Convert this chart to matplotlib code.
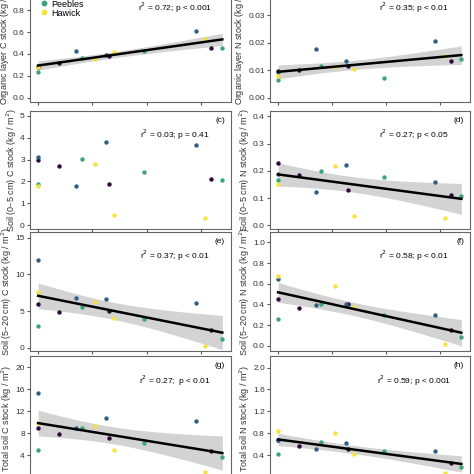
import numpy as np
import matplotlib
matplotlib.use("Agg")
import matplotlib.pyplot as plt
from matplotlib.lines import Line2D

plt.rcParams['font.family'] = ['Liberation Sans', 'DejaVu Sans']

sites = ["Selkirk", "Galashiels", "Peebles", "Hawick"]
site_colors = ["#2d0a3a", "#2f5f86", "#3aa47a", "#f5e23a"]
# x positions per site (4 sampling points each)
site_x = [[0, 0.39, 1.30, 3.19],
          [0, 0.70, 1.25, 2.90],
          [0, 0.80, 1.95, 3.39],
          [0, 1.05, 1.40, 3.08]]

org_C = [[0.28, 0.32, 0.38, 0.45], [0.29, 0.43, 0.39, 0.61], [0.23, 0.36, 0.43, 0.45], [0.28, 0.35, 0.42, 0.54]]
org_N = [[0.0098, 0.0100, 0.0115, 0.0133], [0.0093, 0.0175, 0.0133, 0.0204], [0.0063, 0.0115, 0.0071, 0.0140], [0.0080, 0.0110, 0.0103, 0.0150]]
s05_C = [[3.0, 2.7, 1.9, 2.1], [3.1, 1.8, 3.8, 3.65], [1.9, 3.05, 2.45, 2.05], [1.8, 2.8, 0.45, 0.35]]
s05_N = [[0.228, 0.185, 0.128, 0.113], [0.19, 0.123, 0.22, 0.158], [0.165, 0.20, 0.178, 0.108], [0.15, 0.217, 0.035, 0.027]]
s520_C = [[5.9, 4.9, 5.0, 2.4], [12.0, 6.8, 6.6, 6.1], [3.0, 5.6, 3.9, 1.2], [7.6, 6.3, 4.1, 0.3]]
s520_N = [[0.45, 0.37, 0.40, 0.15], [0.65, 0.39, 0.40, 0.30], [0.26, 0.40, 0.30, 0.09], [0.67, 0.58, 0.38, 0.02]]
tot_C = [[9.0, 7.8, 7.2, 4.8], [15.4, 9.0, 10.7, 10.3], [5.0, 8.9, 6.3, 3.6], [9.8, 9.3, 4.9, 1.0]]
tot_N = [[0.67, 0.56, 0.52, 0.26], [0.68, 0.52, 0.63, 0.47], [0.42, 0.64, 0.48, 0.19], [0.85, 0.80, 0.42, 0.08]]

stats = ["r$^2$ = 0.72; p < 0.001", "r$^2$ = 0.35; p < 0.01",
         "r$^2$ = 0.03; p = 0.41", "r$^2$ = 0.27; p < 0.05",
         "r$^2$ = 0.37; p < 0.01", "r$^2$ = 0.58; p < 0.01",
         "r$^2$ = 0.27;  p < 0.01", "r$^2$ = 0.59; p < 0.001"]
labels = ["(a)", "(b)", "(c)", "(d)", "(e)", "(f)", "(g)", "(h)"]
ylabels = ["Organic layer C stock (kg / m$^2$)", "Organic layer N stock (kg / m$^2$)",
           "Soil (0\u20135 cm) C stock (kg / m$^2$)", "Soil (0\u20135 cm) N stock (kg / m$^2$)",
           "Soil (5\u201320 cm) C stock (kg / m$^2$)", "Soil (5\u201320 cm) N stock (kg / m$^2$)",
           "Total soil C stock (kg / m$^2$)", "Total soil N stock (kg / m$^2$)"]
data = [org_C, org_N, s05_C, s05_N, s520_C, s520_N, tot_C, tot_N]
fit = [True, True, False, True, True, True, True, True]
ylims = [(-0.04, 1.04), (-0.0016, 0.0413), (-0.17, 5.22), (-0.0136, 0.42),
         (-0.45, 15.8), (-0.05, 1.10), (-0.7, 22.05), (-0.07, 2.21)]
yticks = [[0.0, 0.2, 0.4, 0.6, 0.8, 1.0], [0.00, 0.01, 0.02, 0.03, 0.04], [0, 1, 2, 3, 4, 5],
          [0.0, 0.1, 0.2, 0.3, 0.4], [0, 5, 10, 15], [0.0, 0.2, 0.4, 0.6, 0.8, 1.0],
          [0, 4, 8, 12, 16, 20], [0.0, 0.4, 0.8, 1.2, 1.6, 2.0]]
yfmt = ["{:.1f}", "{:.2f}", "{:.0f}", "{:.1f}", "{:.0f}", "{:.1f}", "{:.0f}", "{:.1f}"]

W = 474
fig = plt.figure(figsize=(W / 100, W / 100), dpi=100)
rows = [(-16, 102), (111, 229), (232, 351), (356, 481)]
cols = [(30, 231), (270, 470)]

for i in range(8):
    r, c = divmod(i, 2)
    T, B = rows[r]
    L, R = cols[c]
    ax = fig.add_axes([L / W, 1 - B / W, (R - L) / W, (B - T) / W])
    xs = np.concatenate([np.array(v, float) for v in site_x])
    ys = np.concatenate([np.array(v, float) for v in data[i]])
    if fit[i]:
        n = len(xs)
        b, a = np.polyfit(xs, ys, 1)
        res = ys - (a + b * xs)
        s = np.sqrt(np.sum(res ** 2) / (n - 2))
        xg = np.linspace(xs.min(), xs.max(), 100)
        se = s * np.sqrt(1 / n + (xg - xs.mean()) ** 2 / np.sum((xs - xs.mean()) ** 2))
        yg = a + b * xg
        ax.fill_between(xg, yg - 2.145 * se, yg + 2.145 * se, color="#c8c8c8", alpha=0.8, lw=0, zorder=1)
        ax.plot(xg, yg, color="black", lw=1.8, zorder=3)
    for k in range(4):
        ax.scatter(site_x[k], data[i][k], s=10, color=site_colors[k], zorder=2, lw=0)
    ax.set_xlim(-0.15, 3.55)
    ax.set_ylim(*ylims[i])
    ax.set_xticks([0, 1, 2, 3])
    ax.set_xticklabels([])
    ax.set_yticks(yticks[i])
    ax.set_yticklabels([yfmt[i].format(t) for t in yticks[i]])
    ax.tick_params(labelsize=6, length=2.5, color="#555555", labelcolor="#333333", pad=1.2)
    for sp in ax.spines.values():
        sp.set_color("#666666")
    ax.set_ylabel(ylabels[i], fontsize=6.5, color="#333333", labelpad=1)
    ax.text(0.97, 0.95, labels[i], transform=ax.transAxes, ha="right", va="top", fontsize=6)
    ax.text(0.72, 0.86, stats[i], transform=ax.transAxes, ha="center", va="top", fontsize=6)

handles = [Line2D([], [], marker="o", ls="", color=col, markersize=3.2) for col in site_colors]
fig.legend(handles, sites, loc="upper left", bbox_to_anchor=(36 / W, 1 + 22 / W), frameon=False,
           fontsize=6.5, handletextpad=0.3, labelspacing=0.0, borderaxespad=0, handlelength=1)

fig.savefig("out.png", dpi=100)
